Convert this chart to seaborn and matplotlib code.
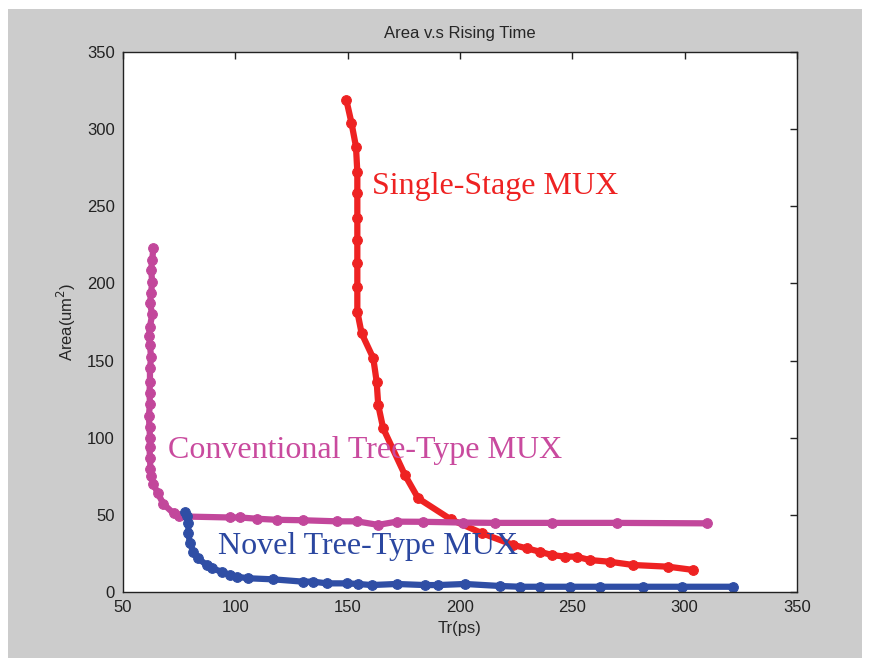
import numpy as np
import pandas as pd
import matplotlib.pyplot as plt
import seaborn as sns
from matplotlib.patches import Rectangle

# Single-Stage MUX
single_tr = [149.4, 151.7, 153.7, 154.3, 154.3, 154.3, 154.3, 154.3, 154.3, 154.3, 156.2,
             161.4, 162.9, 163.6, 165.8, 175.5, 181.4, 196.0, 210.0, 223.7, 229.7, 235.6,
             240.8, 246.7, 251.9, 257.8, 266.7, 277.1, 292.7, 303.8]
single_area = [319.0, 304.0, 288.6, 272.2, 258.4, 242.6, 228.1, 213.0, 197.9, 181.7, 167.7,
               151.5, 136.3, 121.2, 106.1, 75.8, 60.7, 47.0, 38.0, 30.5, 28.3, 26.1,
               24.0, 22.9, 22.9, 20.7, 19.6, 17.5, 16.4, 14.3]

# Conventional Tree-Type MUX
conv_tr = [63.5, 63.0, 62.5, 63.0, 62.5, 62.0, 63.0, 62.0, 61.5, 62.0, 62.5, 62.0, 62.0,
           61.8, 62.0, 61.5, 61.8, 62.0, 61.8, 62.0, 62.2, 62.5, 63.5, 65.5, 68.0, 72.5,
           75.0, 97.6, 102.1, 109.5, 118.4, 130.2, 145.1, 154.0, 163.6, 171.8, 183.6,
           201.5, 215.6, 240.8, 269.7, 309.8]
conv_area = [223, 215, 209, 201, 194, 187, 180, 172, 166, 160, 152, 145, 136,
             129, 122, 114, 107, 100, 94, 87, 80, 75, 70, 64, 57, 51,
             49.0, 48.3, 48.3, 47.5, 46.8, 46.5, 45.8, 45.8, 43.5, 45.6, 45.5,
             45.0, 44.8, 44.8, 44.8, 44.5]

# Novel Tree-Type MUX
novel_tr = [77.6, 78.3, 79.1, 79.1, 79.8, 81.3, 83.5, 87.2, 89.4, 93.9, 97.6, 100.6, 105.8,
            116.9, 130.2, 134.7, 140.7, 149.6, 154.7, 160.7, 171.8, 184.4, 190.3, 202.2,
            217.8, 226.7, 235.6, 248.9, 262.3, 281.6, 298.6, 321.6]
novel_area = [52.0, 49.0, 44.5, 38.0, 31.6, 26.1, 21.8, 17.5, 15.4, 13.2, 11.0, 9.9, 8.9,
              8.2, 6.7, 6.7, 5.6, 5.6, 5.2, 4.5, 5.2, 4.5, 4.5, 5.2,
              3.9, 3.4, 3.4, 3.4, 3.4, 3.4, 3.4, 3.4]

sns.set_style('white')
plt.rcParams['font.family'] = ['Liberation Sans Narrow', 'Liberation Sans', 'DejaVu Sans']

fig = plt.figure(figsize=(8.7, 6.58), dpi=100)
fig.patch.set_facecolor('white')
fig.patches.append(Rectangle((8 / 870, 0), 854 / 870, 1 - 9 / 658,
                             transform=fig.transFigure, facecolor='#cccccc',
                             edgecolor='none', zorder=-10))
ax = fig.add_axes([123 / 870, 1 - 592 / 658, 674 / 870, 540 / 658])

series = [
    (single_tr, single_area, '#ee2222'),
    (conv_tr, conv_area, '#c2479b'),
    (novel_tr, novel_area, '#2f4ea5'),
]
for tr, area, col in series:
    df = pd.DataFrame({'Tr': tr, 'Area': area})
    sns.lineplot(data=df, x='Tr', y='Area', sort=False, estimator=None, ax=ax,
                 color=col, linewidth=4.5, marker='o', markersize=7,
                 markeredgecolor=col, markerfacecolor=col)

ax.set_xlim(50, 350)
ax.set_ylim(0, 350)
ax.set_xticks(np.arange(50, 351, 50))
ax.set_yticks(np.arange(0, 351, 50))
ax.tick_params(direction='in', length=5, width=1, top=True, right=True,
               labelsize=12, colors='#222222', pad=6)
for s in ax.spines.values():
    s.set_color('#222222')
    s.set_linewidth(1)

ax.set_title('Area v.s Rising Time', fontsize=12, pad=10)
ax.set_xlabel('Tr(ps)', fontsize=12, labelpad=4)
ax.set_ylabel('Area(um$^2$)', fontsize=12, labelpad=6)

serif = ['Liberation Serif', 'DejaVu Serif']
ax.text(160.8, 263, 'Single-Stage MUX', color='#ee2222', fontsize=23,
        family=serif, va='center', ha='left')
ax.text(70, 91.4, 'Conventional Tree-Type MUX', color='#c94a9e', fontsize=23,
        family=serif, va='center', ha='left')
ax.text(92.3, 29.2, 'Novel Tree-Type MUX', color='#2b47a0', fontsize=23,
        family=serif, va='center', ha='left')

fig.savefig('out.png', dpi=100, facecolor=fig.get_facecolor())
